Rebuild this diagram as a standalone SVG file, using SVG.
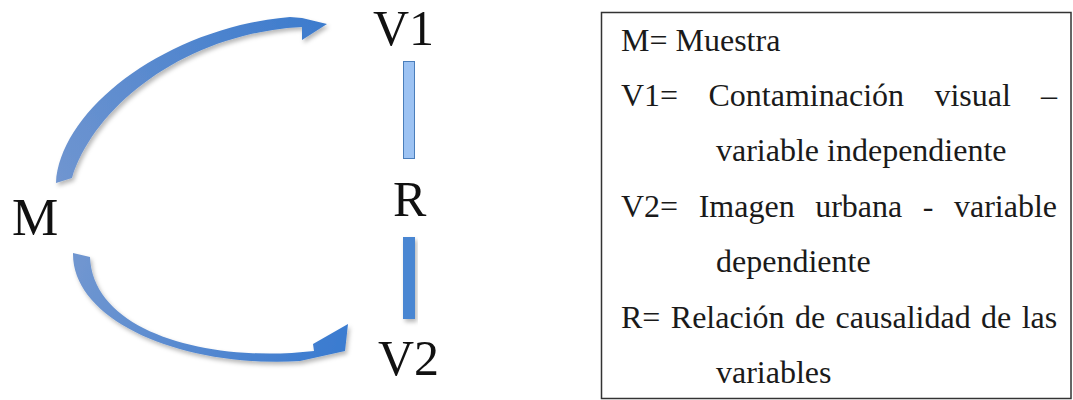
<svg xmlns="http://www.w3.org/2000/svg" width="1073" height="400" viewBox="0 0 1073 400">
  <style>
    .node { font-family: "Liberation Serif", "Times New Roman", serif; font-size: 50px; fill: #111; }
    .legend { font-family: "Liberation Serif", "Times New Roman", serif; font-size: 32px; fill: #1a1a1a; }
    .frame { fill: #fff; stroke: #333; stroke-width: 1.5; }
  </style>
  <defs>
    <!-- soft offset shadow used by the curved arrows and the lower bar -->
    <filter id="shadow" x="-20%" y="-20%" width="140%" height="140%">
      <feDropShadow dx="2" dy="3" stdDeviation="2" flood-color="#000" flood-opacity="0.28"/>
    </filter>
    <linearGradient id="gradUp" x1="60" y1="180" x2="325" y2="20" gradientUnits="userSpaceOnUse">
      <stop offset="0" stop-color="#6F95D0"/>
      <stop offset="1" stop-color="#3C7BCD"/>
    </linearGradient>
    <linearGradient id="gradDown" x1="80" y1="255" x2="345" y2="335" gradientUnits="userSpaceOnUse">
      <stop offset="0" stop-color="#7096D0"/>
      <stop offset="1" stop-color="#3A7BD0"/>
    </linearGradient>
  </defs>

  <!-- connectors: curved arrows from M, and the V1–R–V2 bars -->
  <g id="connectors">
    <path id="arrow-M-V1" filter="url(#shadow)" fill="url(#gradUp)"
          d="M56,183 C60,110 165,28 290,17 L302,18 L327,24 L302,40 L302,27 C185,33 94,106 72,178 Z"/>
    <path id="arrow-M-V2" filter="url(#shadow)" fill="url(#gradDown)"
          d="M73,253 C72,320 180,368 300,361 L345,351 L348,324 L313,344 L314,351 C210,363 93,333 90,257 Z"/>
    <rect id="bar-V1-R" x="403.5" y="61.5" width="11" height="97" fill="#9DC3F3" stroke="#4A7EBB" stroke-width="1"/>
    <rect id="bar-R-V2" x="403" y="237" width="12" height="82" fill="#4A86D2" filter="url(#shadow)"/>
  </g>

  <g id="node-M"><text class="node" x="12" y="235" style="font-size:52px">M</text></g>
  <g id="node-V1"><text class="node" x="373" y="45">V1</text></g>
  <g id="node-R"><text class="node" x="393" y="216">R</text></g>
  <g id="node-V2"><text class="node" x="378" y="375">V2</text></g>

  <!-- legend box with justified definitions -->
  <g id="legend">
    <rect class="frame" x="601.5" y="12.5" width="469.5" height="386"/>
    <text class="legend" x="621" y="51">M= Muestra</text>

    <text class="legend" y="106">
      <tspan x="621">V1=</tspan><tspan x="708.5">Contaminación</tspan><tspan x="934.4">visual</tspan><tspan x="1041">–</tspan>
    </text>
    <text class="legend" x="716" y="161">variable independiente</text>

    <text class="legend" y="217">
      <tspan x="621">V2=</tspan><tspan x="698.7">Imagen</tspan><tspan x="815.2">urbana</tspan><tspan x="922.8">-</tspan><tspan x="954">variable</tspan>
    </text>
    <text class="legend" x="716" y="272">dependiente</text>

    <text class="legend" y="328">
      <tspan x="621">R=</tspan><tspan x="670.8">Relación</tspan><tspan x="795">de</tspan><tspan x="835.6">causalidad</tspan><tspan x="981.1">de</tspan><tspan x="1021.7">las</tspan>
    </text>
    <text class="legend" x="716" y="383">variables</text>
  </g>
</svg>
